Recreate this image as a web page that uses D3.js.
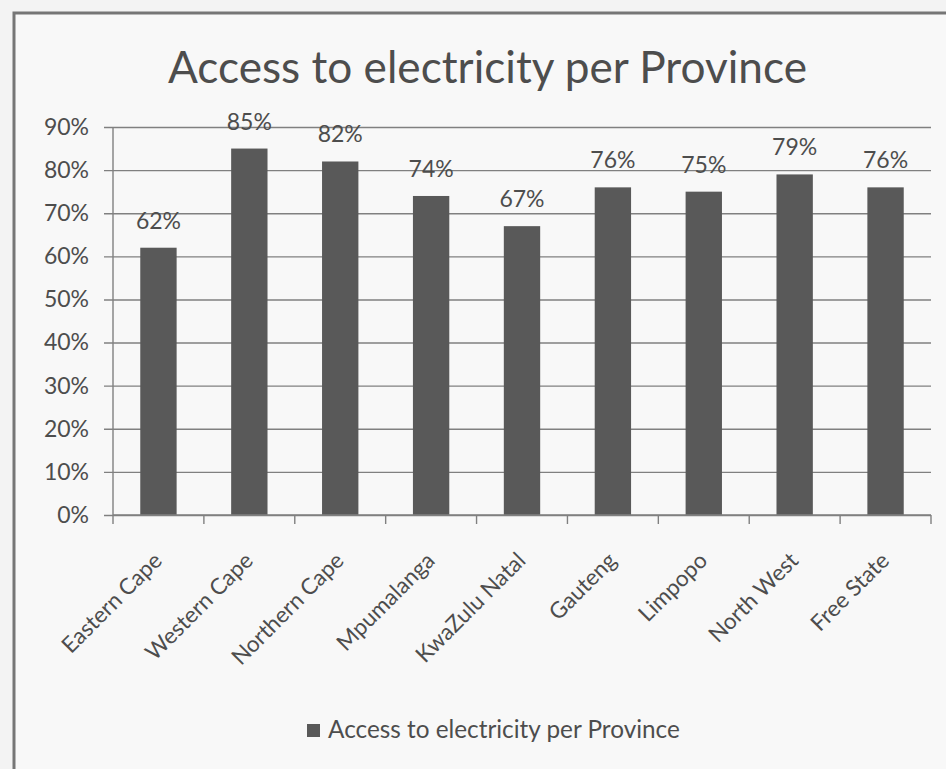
<!DOCTYPE html>
<html><head><meta charset="utf-8">
<script src="https://cdn.jsdelivr.net/npm/d3@7"></script>
<style>html,body{margin:0;padding:0;background:#f3f3f3;overflow:hidden}svg{display:block}</style>
</head><body>
<script>
const categories = ["Eastern Cape","Western Cape","Northern Cape","Mpumalanga","KwaZulu Natal","Gauteng","Limpopo","North West","Free State"];
const values = [62,85,82,74,67,76,75,79,76];
const yTicks = [0,10,20,30,40,50,60,70,80,90];
const titleText = "Access to electricity per Province";
const seriesName = "Access to electricity per Province";

const W = 946, H = 769;
const font = "Lato, 'Open Sans', sans-serif";
const textColor = "#4d4d4d";
const svg = d3.select("body").append("svg").attr("width", W).attr("height", H);

svg.append("rect").attr("width", W).attr("height", H).attr("fill", "#f3f3f3");
svg.append("rect").attr("x", 14).attr("y", 13).attr("width", 950).attr("height", 800)
  .attr("fill", "#f8f8f8").attr("stroke", "#767676").attr("stroke-width", 3);

const m = {left: 113, right: 931, top: 127, bottom: 515};
const x = d3.scaleBand().domain(categories).range([m.left, m.right]).paddingInner(0.6).paddingOuter(0.3);
const y = d3.scaleLinear().domain([0, 90]).range([m.bottom, m.top]);

// gridlines with left ticks
const yAxis = d3.axisLeft(y).tickValues(yTicks).tickSize(-(m.right - m.left)).tickFormat(d => d + "%");
const gy = svg.append("g").attr("transform", `translate(${m.left},0)`).call(yAxis);
gy.select(".domain").remove();
gy.selectAll(".tick line").attr("x1", -9).attr("stroke", "#808080").attr("stroke-width", 1.4);
gy.selectAll(".tick text").attr("x", -24).attr("font-family", font).attr("font-size", 23).attr("fill", textColor);

// y axis line
svg.append("line").attr("x1", m.left).attr("x2", m.left).attr("y1", m.top).attr("y2", m.bottom)
  .attr("stroke", "#808080").attr("stroke-width", 1.4);

// bars
svg.append("g").selectAll("rect").data(values).join("rect")
  .attr("x", (d, i) => x(categories[i]))
  .attr("width", x.bandwidth())
  .attr("y", d => y(d))
  .attr("height", d => y(0) - y(d))
  .attr("fill", "#595959");

// data labels
svg.append("g").selectAll("text").data(values).join("text")
  .attr("x", (d, i) => x(categories[i]) + x.bandwidth() / 2)
  .attr("y", d => y(d) - 19)
  .attr("text-anchor", "middle")
  .attr("font-family", font).attr("font-size", 23).attr("fill", textColor)
  .text(d => d + "%");

// x axis with boundary ticks
const step = (m.right - m.left) / categories.length;
const bounds = d3.range(categories.length + 1).map(i => m.left + i * step);
svg.append("line").attr("x1", m.left).attr("x2", m.right).attr("y1", m.bottom).attr("y2", m.bottom)
  .attr("stroke", "#808080").attr("stroke-width", 1.4);
svg.append("g").selectAll("line").data(bounds).join("line")
  .attr("x1", d => d).attr("x2", d => d).attr("y1", m.bottom).attr("y2", m.bottom + 9)
  .attr("stroke", "#808080").attr("stroke-width", 1.4);

// x labels rotated
svg.append("g").selectAll("text").data(categories).join("text")
  .attr("transform", d => `translate(${x(d) + x.bandwidth() / 2 + 5},${m.bottom + 47}) rotate(-45)`)
  .attr("text-anchor", "end")
  .attr("font-family", font).attr("font-size", 22.5).attr("fill", textColor)
  .text(d => d);

// title fitted to width
function fit(sel, target) {
  const w = sel.node().getComputedTextLength();
  const fs = parseFloat(sel.attr("font-size"));
  sel.attr("font-size", fs * target / w);
}
const title = svg.append("text").attr("x", 487.5).attr("y", 83).attr("text-anchor", "middle")
  .attr("font-family", font).attr("font-size", 36).attr("fill", "#4d4d4d").text(titleText);
fit(title, 639);

// legend
const lg = svg.append("g");
lg.append("rect").attr("x", 307).attr("y", 724).attr("width", 13).attr("height", 13).attr("fill", "#595959");
const lt = lg.append("text").attr("x", 328).attr("y", 738).attr("font-family", font)
  .attr("font-size", 17).attr("fill", textColor).text(seriesName);
fit(lt, 352);
</script>
</body></html>
